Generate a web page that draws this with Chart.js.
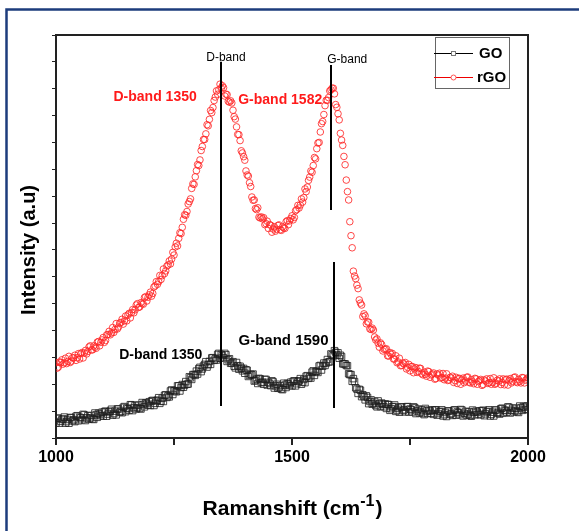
<!DOCTYPE html>
<html>
<head>
<meta charset="utf-8">
<script src="https://cdn.jsdelivr.net/npm/chart.js@4.4.1/dist/chart.umd.min.js"></script>
<style>
html, body { margin: 0; padding: 0; background: #fff; }
#wrap { position: relative; width: 579px; height: 531px; overflow: hidden; }
</style>
</head>
<body>
<div id="wrap"><canvas id="ramanChart" width="579" height="531"></canvas></div>
<script>
// Raman shift grid (cm-1): 1000..2000 every 5, second pass offset by 2.5
const shiftStart = 1000;
const shiftStep = 5;

// rGO intensity (a.u.) at 1000, 1005, ... 2000
const rgoIntensity = [
  280,264,281,275,297,285,281,299,308,299,
  294,318,316,313,339,328,343,334,359,356,
  374,363,385,384,411,404,406,428,442,436,
  436,464,467,466,495,486,504,498,526,524,
  543,538,566,572,605,604,612,640,659,666,
  681,725,743,761,814,829,871,890,946,972,
  1018,1035,1085,1111,1166,1186,1211,1256,1292,1296,
  1302,1304,1280,1253,1255,1220,1187,1130,1107,1061,
  1034,979,950,897,886,850,822,823,820,798,
  780,792,778,770,791,775,786,780,809,808,
  827,821,850,856,890,895,917,959,994,1014,
  1039,1098,1139,1178,1237,1257,1292,1302,1281,1231,
  1184,1109,1048,960,886,753,621,593,556,502,
  452,455,432,406,409,376,369,338,348,330,
  332,305,311,294,306,283,269,279,281,263,
  250,266,257,244,260,239,245,230,247,235,
  242,221,234,223,240,223,214,226,230,214,
  203,222,216,206,226,208,217,202,220,210,
  218,199,212,203,221,207,200,215,220,207,
  198,219,213,205,225,209,218,205,224,215,
  224
];

// rGO intensity at 1002.5, 1007.5, ... 1997.5
const rgoIntensityMid = [
  260,283,291,280,277,304,286,298,289,314,
  314,298,326,322,343,328,338,357,343,365,
  356,384,397,391,393,426,413,430,424,454,
  458,447,478,477,500,488,500,523,510,533,
  528,562,582,582,590,629,622,644,648,691,
  711,715,764,784,831,843,880,929,944,995,
  1014,1070,1111,1132,1162,1219,1230,1269,1279,1317,
  1311,1273,1278,1250,1247,1196,1158,1129,1069,1047,
  994,975,936,885,854,857,819,816,794,807,
  794,766,786,777,793,773,782,805,794,817,
  812,846,866,867,878,927,934,971,989,1044,
  1077,1100,1170,1204,1257,1267,1296,1302,1241,1207,
  1134,1089,1017,917,805,708,603,569,514,495,
  462,425,431,404,402,365,353,354,324,331,
  306,318,315,294,280,297,270,275,257,274,
  266,243,262,248,259,235,237,249,226,238,
  219,238,241,225,217,239,216,223,207,226,
  221,200,223,212,227,205,209,222,200,214,
  196,216,220,206,200,224,204,212,199,220,
  217,197,221,211,227,206,211,225,205,219
];

// GO intensity (a.u.) at 1000, 1005, ... 2000
const goIntensity = [
  56,74,62,71,55,69,76,64,61,83,
  77,68,86,75,70,84,69,86,92,83,
  81,100,89,100,85,100,108,96,94,117,
  111,103,123,113,108,123,108,125,131,122,
  121,140,129,141,129,148,159,151,153,179,
  176,172,194,188,189,210,201,224,236,233,
  238,263,257,274,264,285,298,289,290,315,
  311,299,310,291,278,284,261,269,267,250,
  241,252,233,235,212,219,222,206,200,218,
  207,195,209,194,185,195,180,197,203,195,
  194,213,202,213,200,218,230,222,223,250,
  247,244,270,267,270,292,284,310,325,309,
  297,303,276,270,239,236,221,187,166,178,
  161,142,151,136,126,136,116,128,130,116,
  110,124,109,117,99,111,116,102,97,117,
  108,97,113,101,93,105,87,101,104,92,
  88,105,91,99,82,95,101,88,84,105,
  97,87,104,92,85,98,81,96,100,89,
  86,103,90,99,82,96,104,92,89,111,
  104,96,114,103,97,111,95,112,117,107,
  105
];

// GO intensity at 1002.5, 1007.5, ... 1997.5
const goIntensityMid = [
  73,55,69,78,61,55,76,68,81,64,
  75,88,65,83,75,71,93,77,89,96,
  98,81,97,107,91,86,108,100,114,98,
  109,124,102,121,113,110,132,116,128,135,
  138,121,138,150,137,136,161,157,175,162,
  176,194,175,199,197,200,228,218,236,249,
  258,247,268,284,273,274,299,295,311,297,
  307,315,285,295,279,267,281,256,260,259,
  254,229,237,238,214,203,220,208,218,197,
  203,213,186,200,188,182,204,188,201,208,
  211,194,210,221,208,206,232,228,245,233,
  248,268,253,279,279,283,313,306,319,317,
  308,276,276,269,236,211,210,182,181,154,
  154,157,128,142,129,121,138,117,125,127,
  125,103,116,123,104,96,115,105,116,97,
  105,116,91,108,97,91,110,91,100,104,
  104,85,98,105,87,80,100,91,103,85,
  94,106,82,99,89,84,104,86,96,101,
  102,83,97,105,88,82,104,96,109,92,
  102,116,93,111,102,98,119,103,114,120
];

// band marker lines: position and vertical extent (intensity)
const bandShift  = [1350, 1582, 1590];
const bandTop    = [1400, 1388, 655];
const bandBottom = [119, 849, 112];

// annotation texts
const noteText  = ['D-band', 'G-band', 'D-band 1350', 'G-band 1582', 'D-band 1350', 'G-band 1590'];
const noteShift = [1360, 1617, 1210, 1475, 1222, 1482];
const noteLevel = [1414, 1407, 1267, 1258, 309, 363];

const seriesNames = ['GO', 'rGO'];

const FONT = '"Liberation Sans", Arial, Helvetica, sans-serif';
const noteStyle = [
  { color: '#000', font: '12px ' + FONT },
  { color: '#000', font: '12px ' + FONT },
  { color: '#ff1a1a', font: 'bold 14px ' + FONT },
  { color: '#ff1a1a', font: 'bold 14px ' + FONT },
  { color: '#000', font: 'bold 14px ' + FONT },
  { color: '#000', font: 'bold 15px ' + FONT }
];

function toPoints(vals, offset) {
  return vals.map((v, i) => ({ x: shiftStart + offset + i * shiftStep, y: v }));
}

const extras = {
  id: 'extras',
  beforeDraw(chart) {
    const c = chart.ctx;
    c.save();
    c.fillStyle = '#fff';
    c.fillRect(0, 0, chart.width, chart.height);
    c.strokeStyle = '#1d3c7c';
    c.lineWidth = 2.5;
    c.strokeRect(6.5, 9.5, 800, 800);
    c.restore();
  },
  afterDraw(chart) {
    const c = chart.ctx;
    const a = chart.chartArea;
    const xs = chart.scales.x, ys = chart.scales.y;
    c.save();

    // top / right frame of the plot box
    c.strokeStyle = '#222';
    c.lineWidth = 2;
    c.beginPath();
    c.moveTo(a.left, a.top);
    c.lineTo(a.right, a.top);
    c.lineTo(a.right, a.bottom);
    c.stroke();

    // band lines
    c.strokeStyle = '#000';
    c.lineWidth = 2;
    bandShift.forEach((s, i) => {
      const px = Math.round(xs.getPixelForValue(s));
      c.beginPath();
      c.moveTo(px, ys.getPixelForValue(bandTop[i]));
      c.lineTo(px, ys.getPixelForValue(bandBottom[i]));
      c.stroke();
    });

    // notes
    c.textAlign = 'center';
    c.textBaseline = 'middle';
    noteText.forEach((t, i) => {
      c.fillStyle = noteStyle[i].color;
      c.font = noteStyle[i].font;
      c.fillText(t, xs.getPixelForValue(noteShift[i]), ys.getPixelForValue(noteLevel[i]));
    });

    // legend box
    c.strokeStyle = '#666';
    c.lineWidth = 1;
    c.strokeRect(435.5, 37.5, 74, 51);
    c.textAlign = 'left';
    c.font = 'bold 15px ' + FONT;
    // GO
    c.strokeStyle = '#000';
    c.beginPath(); c.moveTo(434, 53.5); c.lineTo(473, 53.5); c.stroke();
    c.fillStyle = '#fff';
    c.fillRect(451, 51, 5, 5);
    c.strokeStyle = '#777';
    c.strokeRect(451.5, 51.5, 4, 4);
    c.fillStyle = '#000';
    c.fillText(seriesNames[0], 479, 54);
    // rGO
    c.strokeStyle = '#e00';
    c.beginPath(); c.moveTo(434, 77.5); c.lineTo(473, 77.5); c.stroke();
    c.fillStyle = '#fff';
    c.beginPath(); c.arc(453.5, 77.5, 2.5, 0, Math.PI * 2); c.fill();
    c.strokeStyle = '#f55';
    c.stroke();
    c.fillStyle = '#000';
    c.fillText(seriesNames[1], 477, 78);

    // y title
    c.save();
    c.translate(29, 250);
    c.rotate(-Math.PI / 2);
    c.textAlign = 'center';
    c.font = 'bold 20px ' + FONT;
    c.fillText('Intensity (a.u)', 0, 0);
    c.restore();

    // x title with superscript
    const main1 = 'Ramanshift (cm', sup = '-1', main2 = ')';
    c.textBaseline = 'alphabetic';
    c.font = 'bold 21px ' + FONT;
    const w1 = c.measureText(main1).width, w3 = c.measureText(main2).width;
    c.font = 'bold 16px ' + FONT;
    const w2 = c.measureText(sup).width;
    let sx = 292 - (w1 + w2 + w3) / 2;
    c.font = 'bold 21px ' + FONT;
    c.fillText(main1, sx, 515);
    c.font = 'bold 16px ' + FONT;
    c.fillText(sup, sx + w1, 506);
    c.font = 'bold 21px ' + FONT;
    c.fillText(main2, sx + w1 + w2 + 1, 515);

    c.restore();
  }
};

new Chart(document.getElementById('ramanChart'), {
  type: 'scatter',
  data: {
    datasets: [
      {
        label: seriesNames[1],
        data: toPoints(rgoIntensity, 0).concat(toPoints(rgoIntensityMid, shiftStep / 2)),
        pointStyle: 'circle',
        pointRadius: 3.3,
        borderWidth: 1,
        borderColor: 'rgba(255,40,40,0.85)',
        backgroundColor: 'rgba(0,0,0,0)',
        showLine: false
      },
      {
        label: seriesNames[0],
        data: toPoints(goIntensity, 0).concat(toPoints(goIntensityMid, shiftStep / 2)),
        pointStyle: 'rect',
        pointRadius: 4.6,
        borderWidth: 1,
        borderColor: 'rgba(30,30,30,0.8)',
        backgroundColor: 'rgba(0,0,0,0)',
        showLine: false
      }
    ]
  },
  options: {
    responsive: false,
    animation: false,
    devicePixelRatio: 1,
    layout: { padding: { left: 0, top: 35, right: 51, bottom: 0 } },
    plugins: { legend: { display: false }, tooltip: { enabled: false } },
    scales: {
      x: {
        type: 'linear',
        min: 1000,
        max: 2000,
        afterFit(s) { s.height = 93; },
        border: { display: true, color: '#222', width: 2 },
        grid: { drawOnChartArea: false, drawTicks: true, tickLength: 7, color: '#222', lineWidth: 2 },
        ticks: {
          stepSize: 250,
          autoSkip: false,
          maxRotation: 0,
          padding: 3,
          color: '#000',
          font: { family: FONT, size: 16, weight: 'bold' },
          callback: v => (v % 500 === 0 ? String(v) : '')
        }
      },
      y: {
        min: 0,
        max: 1500,
        afterFit(s) { s.width = 56; },
        border: { display: true, color: '#222', width: 2 },
        grid: { drawOnChartArea: false, drawTicks: true, tickLength: 4, color: '#222', lineWidth: 1 },
        ticks: { stepSize: 100, autoSkip: false, callback: () => '' }
      }
    }
  },
  plugins: [extras]
});
</script>
</body>
</html>
